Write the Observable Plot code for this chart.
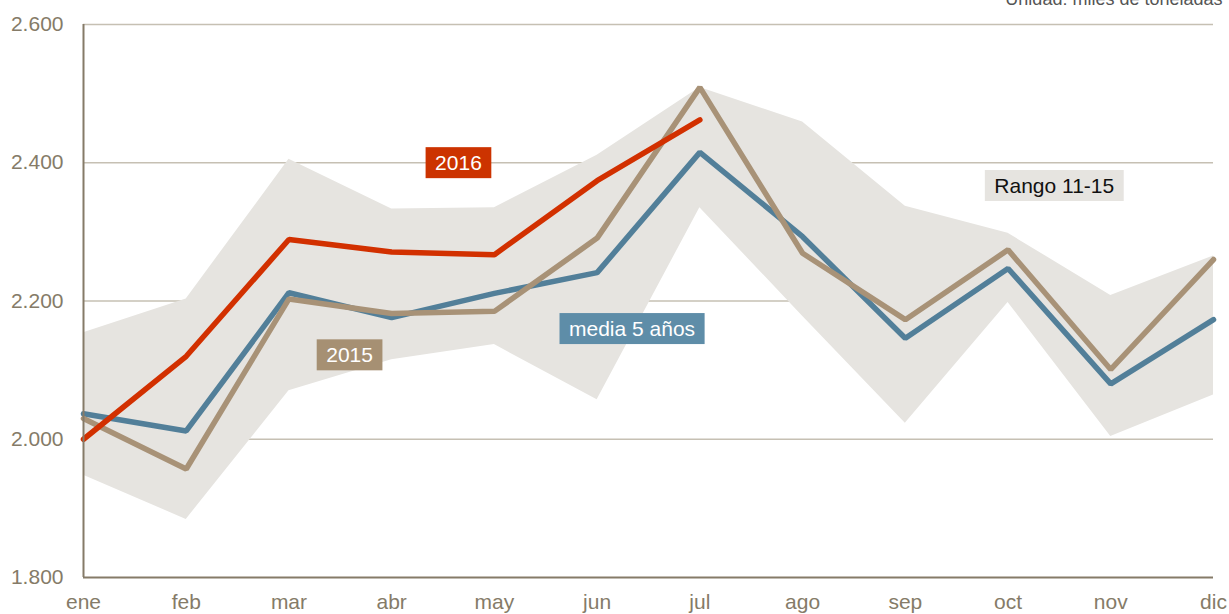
<!DOCTYPE html>
<html>
<head>
<meta charset="utf-8">
<script src="https://cdn.jsdelivr.net/npm/d3@7"></script>
<script src="https://cdn.jsdelivr.net/npm/@observablehq/plot@0.6"></script>
<style>
  html, body { margin: 0; padding: 0; background: #fff; overflow: hidden; }
</style>
</head>
<body>
<div id="chart"></div>
<script>
const months = ["ene","feb","mar","abr","may","jun","jul","ago","sep","oct","nov","dic"];
const s2016 = [2000, 2120, 2289, 2271, 2267, 2374, 2462];
const media5 = [2037, 2012, 2212, 2176, 2211, 2241, 2415, 2293, 2146, 2247, 2080, 2173];
const s2015 = [2030, 1957, 2203, 2182, 2185, 2291, 2509, 2269, 2173, 2274, 2101, 2260];
const rangoMax = [2154, 2203, 2405, 2333, 2335, 2411, 2509, 2459, 2337, 2298, 2208, 2265];
const rangoMin = [1948, 1884, 2070, 2115, 2137, 2057, 2335, 2178, 2023, 2198, 2004, 2064];
const yTicks = [1800, 2000, 2200, 2400, 2600];
const yGrid = [2000, 2200, 2400, 2600];
const unitLabel = "Unidad: miles de toneladas";

// series labels (position in month index / value units)
const labelText = ["2016", "media 5 años", "2015", "Rango 11-15"];
const labelX = [3.65, 5.34, 2.59, 9.45];
const labelY = [2399, 2159, 2121, 2366];
const labelBox = ["#cc3300", "#5e8da8", "#a69073", "#e6e4e0"];
const labelInk = ["#ffffff", "#ffffff", "#ffffff", "#111111"];

const idx = d3.range(months.length);
const rango = idx.map(i => ({i, lo: rangoMin[i], hi: rangoMax[i]}));
const mediaData = idx.map(i => ({i, v: media5[i]}));
const d2015 = idx.map(i => ({i, v: s2015[i]}));
const d2016 = s2016.map((v, i) => ({i, v}));
const labels = labelText.map((t, k) => ({t, x: labelX[k], y: labelY[k], box: labelBox[k], ink: labelInk[k]}));

const fmt = v => d3.format(",")(v).replace(/,/g, ".");

const axisColor = "#857b68";

const svg = Plot.plot({
  width: 1229,
  height: 614,
  marginLeft: 83,
  marginRight: 16,
  marginTop: 24,
  marginBottom: 37,
  style: {fontFamily: "'Liberation Sans', Arial, sans-serif", fontSize: "21px", color: axisColor, background: "#fff", overflow: "hidden"},
  x: {domain: [0, 11], ticks: idx, tickFormat: i => months[i], tickSize: 0, tickPadding: 17, label: null},
  y: {domain: [1800, 2600], ticks: yTicks, tickFormat: fmt, tickSize: 0, tickPadding: 20, label: null},
  marks: [
    Plot.ruleY(yGrid, {stroke: "#c6c0b3", strokeWidth: 1.5}),
    Plot.areaY(rango, {x: "i", y1: "lo", y2: "hi", fill: "#e6e4e0"}),
    Plot.line(mediaData, {x: "i", y: "v", stroke: "#527f99", strokeWidth: 5.5, strokeLinejoin: "miter"}),
    Plot.line(d2015, {x: "i", y: "v", stroke: "#a89277", strokeWidth: 5.5, strokeLinejoin: "miter"}),
    Plot.line(d2016, {x: "i", y: "v", stroke: "#d23000", strokeWidth: 5.5, strokeLinejoin: "miter", strokeLinecap: "round"}),
    Plot.ruleX([0], {stroke: axisColor, strokeWidth: 2}),
    Plot.ruleY([1800], {stroke: axisColor, strokeWidth: 2}),
    Plot.text(labels, {x: "x", y: "y", text: "t", fill: "ink", fontSize: 21, textAnchor: "middle", lineAnchor: "middle"}),
    Plot.text([unitLabel], {frameAnchor: "top-right", dx: 9, dy: -20, textAnchor: "end", lineAnchor: "bottom", fontSize: 18, fill: "#555"})
  ]
});

document.getElementById("chart").appendChild(svg);

// draw coloured boxes behind the series labels
svg.querySelectorAll("text").forEach(t => {
  const k = labelText.indexOf(t.textContent);
  if (k < 0) return;
  const b = t.getBBox();
  const padX = 9.5, padY = 4;
  const r = document.createElementNS("http://www.w3.org/2000/svg", "rect");
  r.setAttribute("x", b.x - padX);
  r.setAttribute("y", b.y - padY);
  r.setAttribute("width", b.width + 2 * padX);
  r.setAttribute("height", b.height + 2 * padY);
  r.setAttribute("fill", labelBox[k]);
  if (t.getAttribute("transform")) r.setAttribute("transform", t.getAttribute("transform"));
  t.parentNode.insertBefore(r, t);
});
</script>
</body>
</html>
